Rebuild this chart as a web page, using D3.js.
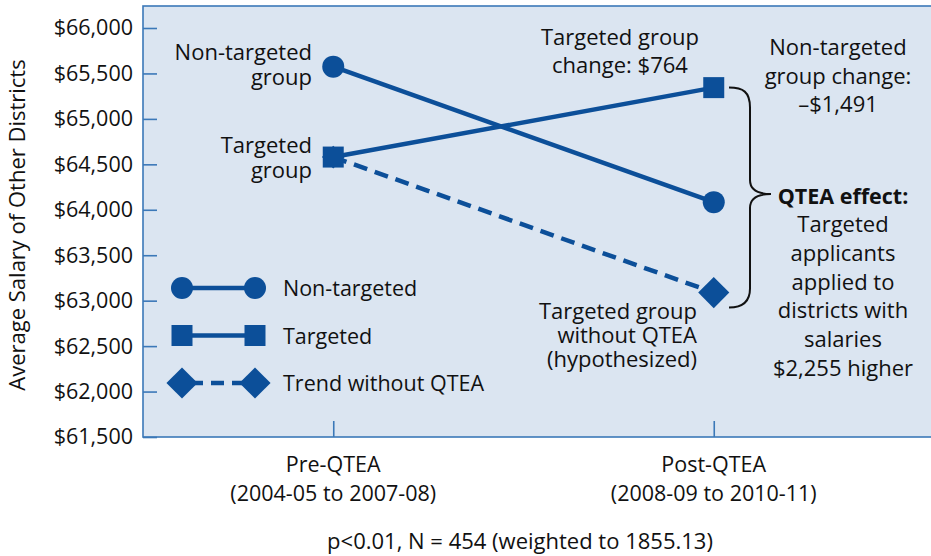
<!DOCTYPE html>
<html>
<head>
<meta charset="utf-8">
<script src="https://cdn.jsdelivr.net/npm/d3@7"></script>
<style>
  body { margin: 0; background: #fff; }
  svg { display: block; font-family: "Open Sans", sans-serif; }
</style>
</head>
<body>
<div id="chart"></div>
<script>
const w = 931, h = 556;
const m = {l: 143, r: -10, t: 6, b: 119};

// values
const periods = ["Pre-QTEA", "Post-QTEA"];
const periodNotes = ["(2004-05 to 2007-08)", "(2008-09 to 2010-11)"];
const nonTargeted = [65575, 64084];
const targeted = [64580, 65344];
const trendWithout = [64580, 63089];
const yTicks = d3.range(61500, 66001, 500);
const legendItems = ["Non-targeted", "Targeted", "Trend without QTEA"];
const effectLines = ["Targeted", "applicants", "applied to", "districts with", "salaries", "$2,255 higher"];

const blue = "#0c4f99", frameCol = "#3b78b8", bg = "#dbe5f1", ink = "#111";
const fs = 21.5;

const svg = d3.select("#chart").append("svg").attr("width", w).attr("height", h);

const x = d3.scalePoint().domain(periods).range([m.l, w - m.r - 37]).padding(0.5);
const y = d3.scaleLinear().domain([61500, 66000]).range([h - m.b, 28]);

svg.append("rect")
  .attr("x", m.l).attr("y", m.t)
  .attr("width", w - m.l + 10).attr("height", h - m.b - m.t)
  .attr("fill", bg).attr("stroke", frameCol).attr("stroke-width", 1.6);

// y axis
const ya = svg.append("g")
  .attr("transform", `translate(${m.l},0)`)
  .call(d3.axisLeft(y).tickValues(yTicks).tickSizeInner(-14).tickSizeOuter(0).tickPadding(10)
    .tickFormat(d => "$" + d3.format(",")(d)));
ya.select(".domain").remove();
ya.selectAll("line").attr("stroke", frameCol).attr("stroke-width", 1.6);
ya.selectAll("text").attr("font-size", fs).attr("fill", ink).attr("font-family", "Open Sans");

// x axis
const xa = svg.append("g")
  .attr("transform", `translate(0,${h - m.b})`)
  .call(d3.axisBottom(x).tickSizeInner(-16).tickSizeOuter(0).tickFormat(""));
xa.select(".domain").remove();
xa.selectAll("line").attr("stroke", frameCol).attr("stroke-width", 1.6);

periods.forEach((p, i) => {
  svg.append("text").attr("x", x(p)).attr("y", 472).attr("text-anchor", "middle")
    .attr("font-size", fs).attr("fill", ink).text(p);
  svg.append("text").attr("x", x(p)).attr("y", 501).attr("text-anchor", "middle")
    .attr("font-size", fs).attr("fill", ink).text(periodNotes[i]);
});

svg.append("text").attr("x", 520).attr("y", 549).attr("text-anchor", "middle")
  .attr("font-size", 22).attr("fill", ink).text("p<0.01, N = 454 (weighted to 1855.13)");

svg.append("text")
  .attr("transform", `translate(25,225) rotate(-90)`)
  .attr("text-anchor", "middle").attr("font-size", 22).attr("fill", ink)
  .text("Average Salary of Other Districts");

// lines
const line = d3.line().x((d, i) => x(periods[i])).y(d => y(d));
svg.append("path").datum(trendWithout).attr("d", line).attr("fill", "none")
  .attr("stroke", blue).attr("stroke-width", 4.5).attr("stroke-dasharray", "14,8");
svg.append("path").datum(nonTargeted).attr("d", line).attr("fill", "none")
  .attr("stroke", blue).attr("stroke-width", 4.5);
svg.append("path").datum(targeted).attr("d", line).attr("fill", "none")
  .attr("stroke", blue).attr("stroke-width", 4.5);

const circle = d3.symbol().type(d3.symbolCircle).size(Math.PI * 11 * 11);
const square = d3.symbol().type(d3.symbolSquare).size(21 * 21);
const diamond = d3.symbol().type(d3.symbolSquare).size(22 * 22);
const smallDiamond = d3.symbol().type(d3.symbolSquare).size(16 * 16);

function markers(vals, sym, rot) {
  svg.append("g").selectAll("path").data(vals).join("path")
    .attr("transform", (d, i) => `translate(${x(periods[i])},${y(d)}) rotate(${rot})`)
    .attr("d", (d, i) => typeof sym === "function" ? sym(d, i) : sym).attr("fill", blue);
}
markers(trendWithout, (d, i) => i === 0 ? smallDiamond() : diamond(), 45);
markers(nonTargeted, circle, 0);
markers(targeted, square, 0);

// legend
const lg = svg.append("g");
const legSyms = [[circle, 0], [square, 0], [diamond, 45]];
legendItems.forEach((t, i) => {
  const ly = 288 + i * 47.5;
  lg.append("line").attr("x1", 190).attr("x2", 248).attr("y1", ly).attr("y2", ly)
    .attr("stroke", blue).attr("stroke-width", 4.5)
    .attr("stroke-dasharray", i === 2 ? "13,8" : null);
  [182, 255].forEach(cx => {
    lg.append("path").attr("d", legSyms[i][0])
      .attr("transform", `translate(${cx},${ly}) rotate(${legSyms[i][1]})`).attr("fill", blue);
  });
  lg.append("text").attr("x", 283).attr("y", ly + 8).attr("font-size", fs).attr("fill", ink).text(t);
});

// annotations
function note(lines, ax, ay, anchor, lh) {
  const t = svg.append("text").attr("text-anchor", anchor).attr("font-size", 22).attr("fill", ink);
  lines.forEach((s, i) => t.append("tspan").attr("x", ax).attr("y", ay + i * lh).text(s));
  return t;
}
note(["Non-targeted", "group"], 312, 60, "end", 24.5);
note(["Targeted", "group"], 312, 153, "end", 24.5);
note(["Targeted group", "change: $764"], 620, 45, "middle", 28);
note(["Non-targeted", "group change:", "\u2013$1,491"], 838, 55, "middle", 28.5);
note(["Targeted group", "without QTEA", "(hypothesized)"], 697, 319, "end", 24);
svg.append("text").attr("x", 843).attr("y", 204).attr("text-anchor", "middle")
  .attr("font-size", fs).attr("font-weight", "bold").attr("fill", ink).text("QTEA effect:");
note(effectLines, 843, 232, "middle", 28.8);

// brace
const bx = 729, by0 = y(targeted[1]), by1 = y(trendWithout[1]), bm = 194;
svg.append("path")
  .attr("d", `M${bx},${by0} C${bx + 14},${by0} ${bx + 21},${by0 + 4} ${bx + 21},${by0 + 20}
    L${bx + 21},${bm - 14} C${bx + 21},${bm - 4} ${bx + 30},${bm} ${bx + 42},${bm}
    C${bx + 30},${bm} ${bx + 21},${bm + 4} ${bx + 21},${bm + 14}
    L${bx + 21},${by1 - 4} C${bx + 21},${by1 + 10} ${bx + 12},${by1 + 15} ${bx},${by1 + 15}`)
  .attr("fill", "none").attr("stroke", ink).attr("stroke-width", 2);
</script>
</body>
</html>
